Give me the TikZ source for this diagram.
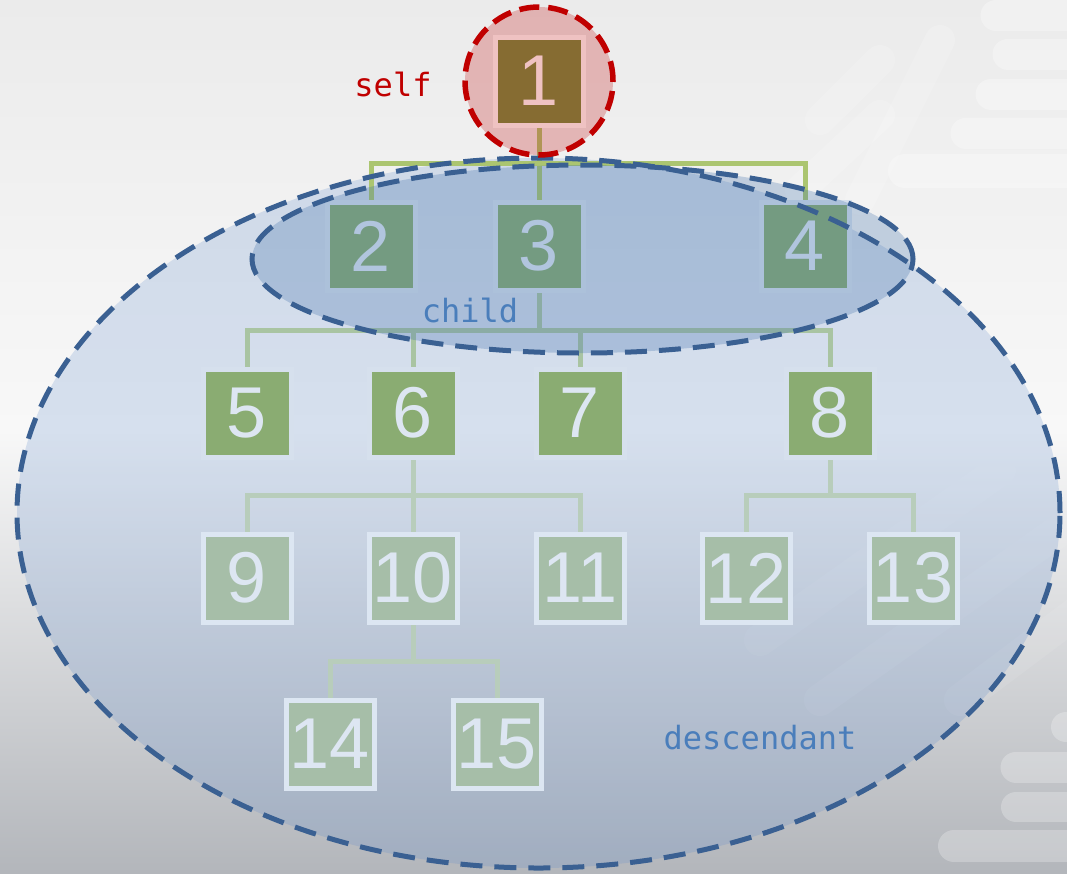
\documentclass[tikz,border=0pt]{standalone}
\usepackage{fontspec}
\newfontfamily\numfont{Liberation Sans}
\newfontfamily\codefont{DejaVu Sans Mono}
\usetikzlibrary{calc}

% palette
\definecolor{bgtop}{RGB}{235,235,235}
\definecolor{bgmid}{RGB}{248,248,248}
\definecolor{bgbot}{RGB}{179,182,187}
\definecolor{descfill}{RGB}{95,140,205}
\definecolor{childfill}{RGB}{60,110,170}
\definecolor{dashblue}{RGB}{58,96,146}
\definecolor{selfred}{RGB}{192,0,0}
\definecolor{labelblue}{RGB}{74,126,187}
\definecolor{rootfill}{RGB}{117,143,66}
\definecolor{lvAfill}{RGB}{138,172,114}
\definecolor{lvAedge}{RGB}{214,224,237}
\definecolor{lvBfill}{RGB}{166,190,168}
\definecolor{lvBedge}{RGB}{220,230,242}
\definecolor{nodetext}{RGB}{221,230,242}
\definecolor{linkA}{RGB}{171,197,112}
\definecolor{linkB}{RGB}{169,196,162}
\definecolor{linkC}{RGB}{184,205,187}

\pgfdeclarelayer{backdrop}
\pgfdeclarelayer{wires}
\pgfsetlayers{backdrop,wires,main}

\tikzset{
  treebox/.style={rectangle, minimum size=88pt, inner sep=0pt, line width=5pt,
    font=\numfont\fontsize{72}{72}\selectfont},
  rootbox/.style={treebox, fill=rootfill, draw=white, text=white},
  midbox/.style={treebox, fill=lvAfill, draw=lvAedge, text=nodetext},
  leafbox/.style={treebox, fill=lvBfill, draw=lvBedge, text=nodetext},
  wireA/.style={draw=linkA, line width=5pt},
  wireB/.style={draw=linkB, line width=5pt},
  wireC/.style={draw=linkC, line width=5pt},
  ringline/.style={line width=5pt, dash pattern=on 22pt off 12pt},
  pill/.style={draw=white, line cap=round},
  tag/.style={font=\codefont\fontsize{32}{32}\selectfont, anchor=base}
}

\begin{document}
\begin{tikzpicture}[x=1pt,y=-1pt]
\useasboundingbox (0,0) rectangle (1067,873);

% backdrop with its soft bands, and the descendant region beneath the tree
\begin{pgfonlayer}{backdrop}
\begin{scope}
  \clip (0,0) rectangle (1067,873);
  \fill[top color=bgtop, bottom color=bgmid] (0,0) rectangle (1067,431);
  \fill[top color=bgmid, bottom color=bgbot] (0,430) rectangle (1067,873);
  \begin{scope}[opacity=0.3]
    \draw[pill, line width=31pt] (996,15) -- (1100,15);
    \draw[pill, line width=31pt] (1008,54) -- (1100,54);
    \draw[pill, line width=31pt] (991,94) -- (1100,94);
    \draw[pill, line width=31pt] (966,133) -- (1100,133);
    \draw[pill, line width=34pt] (905,171) -- (1100,171);
  \end{scope}
  \begin{scope}[opacity=0.16]
    \draw[pill, line width=30pt] (820,120) -- (880,60);
    \draw[pill, line width=30pt] (800,190) -- (880,115);
    \draw[pill, line width=30pt] (860,200) -- (940,40);
  \end{scope}
  \begin{scope}[opacity=0.08]
    \draw[pill, line width=32pt] (760,640) -- (1000,470);
    \draw[pill, line width=32pt] (820,700) -- (1060,530);
    \draw[pill, line width=32pt] (960,700) -- (1080,610);
    \draw[pill, line width=32pt] (700,420) -- (900,290);
  \end{scope}
  \begin{scope}[opacity=0.25]
    \draw[pill, line width=31pt] (1016,767) -- (1100,767);
    \draw[pill, line width=30pt] (1016,807) -- (1100,807);
    \draw[pill, line width=32pt] (954,846) -- (1100,846);
    \draw[pill, line width=30pt] (1066,727) -- (1100,727);
  \end{scope}
\end{scope}
\fill[descfill, opacity=0.22] (538.5,513) ellipse [x radius=521.5pt, y radius=355pt];
\end{pgfonlayer}

% tree nodes
\node[rootbox] (n1) at (539,81) {1};
\node[midbox] (n2) at (371,246) {2};
\node[midbox] (n3) at (539,246) {3};
\node[midbox] (n4) at (805,246) {4};
\node[midbox] (n5) at (247,413) {5};
\node[midbox] (n6) at (413,413) {6};
\node[midbox] (n7) at (580,413) {7};
\node[midbox] (n8) at (830,413) {8};
\node[leafbox] (n9) at (247,578) {9};
\node[leafbox] (n10) at (413,578) {10};
\node[leafbox] (n11) at (580,578) {11};
\node[leafbox] (n12) at (746,578) {12};
\node[leafbox] (n13) at (913,578) {13};
\node[leafbox] (n14) at (330,744) {14};
\node[leafbox] (n15) at (497,744) {15};

% elbow connectors from each parent to its children, under the boxes
\begin{pgfonlayer}{wires}
\foreach \c in {n2,n3,n4}
  \path[wireA] (n1.south) -- ++(0,35.5) -| (\c.north);
\foreach \c in {n5,n6,n7,n8}
  \path[wireB] (n3.south) -- ++(0,37.5) -| (\c.north);
\foreach \c in {n9,n10,n11}
  \path[wireC] (n6.south) -- ++(0,35.5) -| (\c.north);
\foreach \c in {n12,n13}
  \path[wireC] (n8.south) -- ++(0,35.5) -| (\c.north);
\foreach \c in {n14,n15}
  \path[wireC] (n10.south) -- ++(0,36.5) -| (\c.north);
\end{pgfonlayer}

% child region and self ring, tinted over the tree
\fill[childfill, opacity=0.27] (582.5,259) ellipse [x radius=330.5pt, y radius=94pt];
\fill[selfred, opacity=0.24] (539,81) circle [radius=74pt];

% dashed outlines
\draw[ringline, dashblue] (538.5,513) ellipse [x radius=521.5pt, y radius=355pt];
\draw[ringline, dashblue] (582.5,259) ellipse [x radius=330.5pt, y radius=94pt];
\draw[selfred, line width=5.5pt, dash pattern=on 20pt off 9pt] (539,81) circle [radius=74pt];

% labels
\node[tag, text=selfred] (lself) at (393,96) {self};
\node[tag, text=labelblue] (lchild) at (470,322) {child};
\node[tag, text=labelblue] (ldesc) at (760,749) {descendant};
\end{tikzpicture}
\end{document}
